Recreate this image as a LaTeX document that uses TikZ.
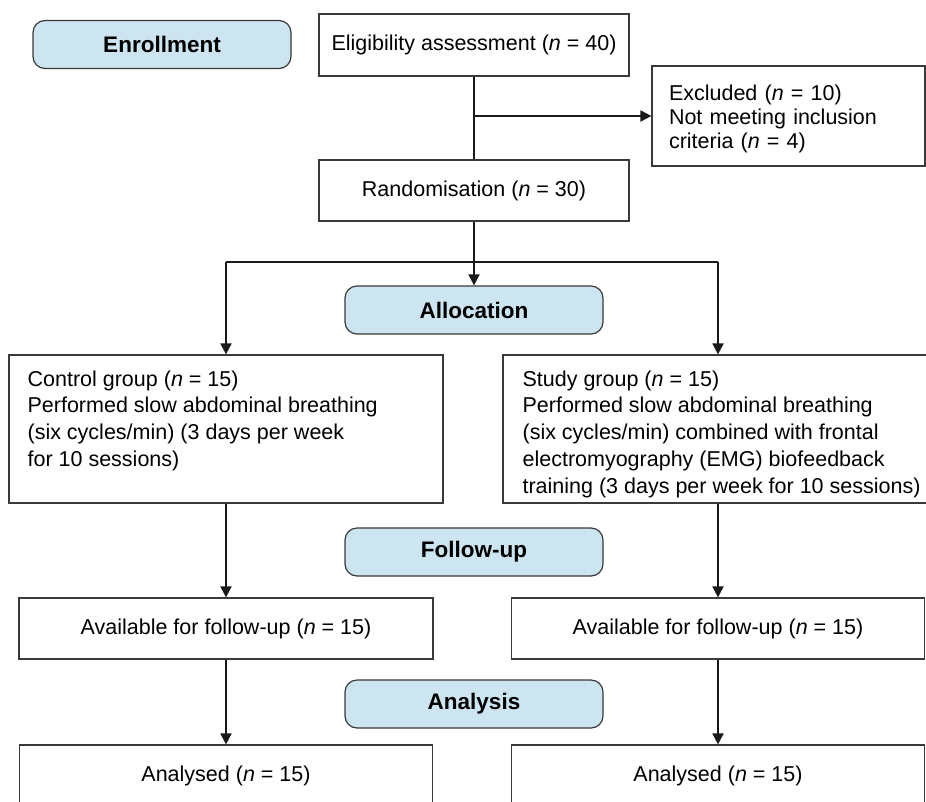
\documentclass[tikz,border=0pt]{standalone}
\usepackage{fontspec}
\setmainfont{Liberation Sans}
\usetikzlibrary{arrows.meta}
\definecolor{phasefill}{HTML}{CDE5F0}
\definecolor{boxline}{HTML}{3A3A3A}
\begin{document}
\begin{tikzpicture}[x=1pt,y=-1pt,
  every node/.style={font=\fontsize{21.5}{26.5}\selectfont},
  box/.style={draw=boxline, line width=1.2pt, fill=white, inner sep=0pt},
  phase/.style={draw=boxline, line width=1.2pt, fill=phasefill, rounded corners=12pt,
    minimum width=258pt, minimum height=48pt, inner sep=0pt,
    font=\fontsize{22.5}{27}\selectfont\bfseries},
  conn/.style={line width=1.8pt, draw=black!90},
  arr/.style={conn, -{Triangle[length=11pt,width=11pt]}},
  gtext/.style={align=left, inner sep=0pt, anchor=north west}
]
\useasboundingbox (0,0) rectangle (926,801);
\clip (0,0) rectangle (926,801);

\node[phase] (enroll) at (162,44.5) {Enrollment};
\node[box, minimum width=310pt, minimum height=62pt] (elig) at (474,45)
  {Eligibility assessment (\textit{n} = 40)};
\node[box, minimum height=100pt, align=left, text width=239pt, inner xsep=17pt,
  font=\fontsize{21.5}{24}\selectfont] (excl) at (788.5,116)
  {\rule{0pt}{21pt}Excluded (\textit{n} = 10)\\Not meeting inclusion\\criteria (\textit{n} = 4)};
\node[box, minimum width=310pt, minimum height=61pt] (rand) at (474,190.5)
  {Randomisation (\textit{n} = 30)};
\node[phase] (alloc) at (474,310) {Allocation};

\node[box, minimum width=434pt, minimum height=148pt] (ctrl) at (226,429) {};
\node[gtext, font=\fontsize{21.5}{26.8}\selectfont] (ctrltxt) at ([shift={(19,16)}]ctrl.north west)
  {Control group (\textit{n} = 15)\\Performed slow abdominal breathing\\(six cycles/min) (3 days per week\\for 10 sessions)};
\node[box, minimum width=430pt, minimum height=148pt] (study) at (718,429) {};
\node[gtext, font=\fontsize{21.5}{26.8}\selectfont] (studytxt) at ([shift={(20,16)}]study.north west)
  {Study group (\textit{n} = 15)\\Performed slow abdominal breathing\\(six cycles/min) combined with frontal\\electromyography (EMG) biofeedback\\training (3 days per week for 10 sessions)};

\node[phase] (follow) at (474,552) {Follow-up};
\node[box, minimum width=414pt, minimum height=61pt] (availL) at (226,628.5)
  {Available for follow-up (\textit{n} = 15)};
\node[box, minimum width=413pt, minimum height=61pt] (availR) at (718,628.5)
  {Available for follow-up (\textit{n} = 15)};
\node[phase] (anal) at (474,704) {Analysis};
\node[box, minimum width=413pt, minimum height=62pt] (anaL) at (226,776)
  {Analysed (\textit{n} = 15)};
\node[box, minimum width=413pt, minimum height=62pt] (anaR) at (718,776)
  {Analysed (\textit{n} = 15)};

\draw[conn] (elig.south) -- (rand.north);
\coordinate (exclsplit) at (elig.south |- excl.west);
\draw[arr] (exclsplit) -- (excl.west);
\coordinate (split) at (474,262);
\draw[conn] (rand.south) -- (split);
\draw[arr] (split) -- (alloc.north);
\coordinate (splitL) at (ctrl.north |- split);
\coordinate (splitR) at (study.north |- split);
\draw[conn] (splitL) -- (splitR);
\draw[arr] (splitL) -- (ctrl.north);
\draw[arr] (splitR) -- (study.north);
\draw[arr] (ctrl.south) -- (availL.north);
\draw[arr] (study.south) -- (availR.north);
\draw[arr] (availL.south) -- (anaL.north);
\draw[arr] (availR.south) -- (anaR.north);
\end{tikzpicture}
\end{document}
